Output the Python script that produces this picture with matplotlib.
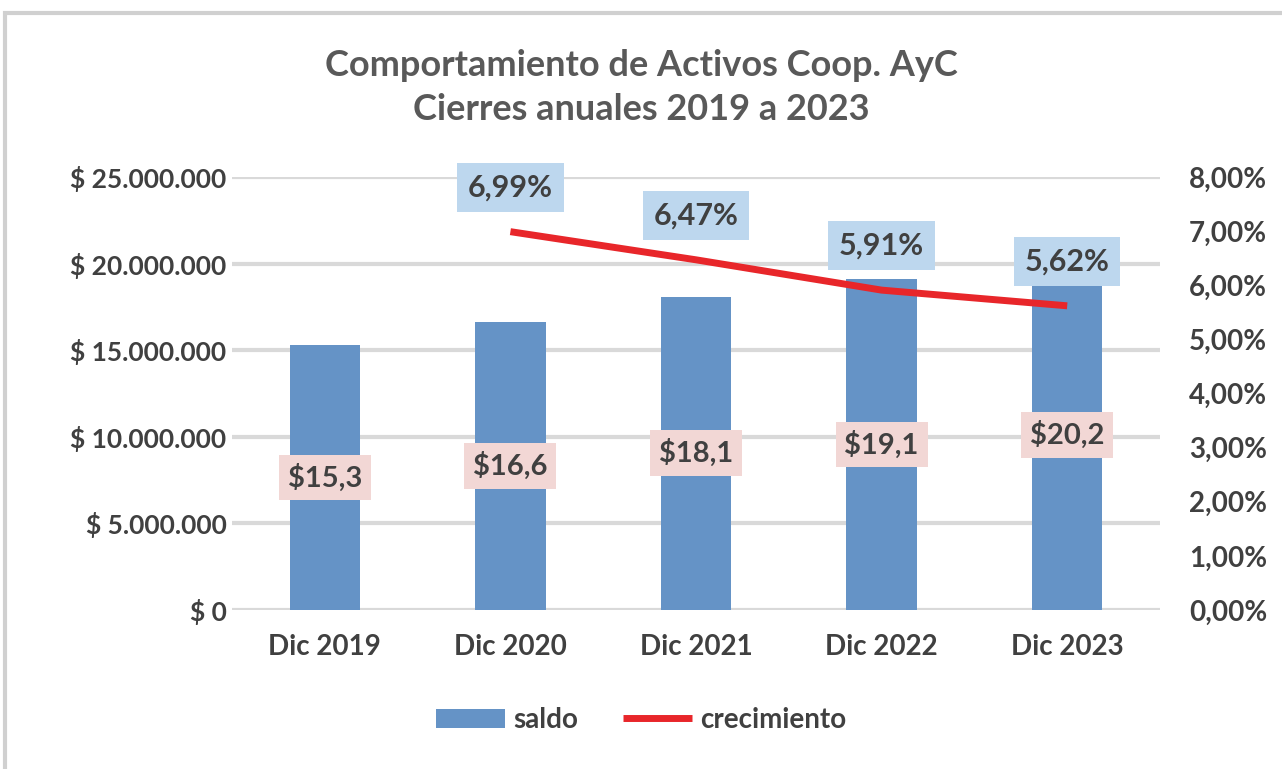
import matplotlib
matplotlib.use("Agg")
import matplotlib.pyplot as plt
from matplotlib.patches import Rectangle
from matplotlib.ticker import FuncFormatter, MultipleLocator
import numpy as np

categories = ["Dic 2019", "Dic 2020", "Dic 2021", "Dic 2022", "Dic 2023"]
saldo = [15.3e6, 16.6e6, 18.1e6, 19.1e6, 20.2e6]
crecimiento = [np.nan, 6.99, 6.47, 5.91, 5.62]
saldo_labels = ["$15,3", "$16,6", "$18,1", "$19,1", "$20,2"]
crec_labels = ["", "6,99%", "6,47%", "5,91%", "5,62%"]

FONT = ["Lato", "DejaVu Sans"]
plt.rcParams['font.family'] = FONT
TXT = "#404040"
BAR = "#6593C6"
RED = "#E8262A"
GRID = "#D9D9D9"

fig = plt.figure(figsize=(12.82, 7.69), dpi=100)
ax = fig.add_axes([232/1282, 1-610/769, (1160-232)/1282, (610-177)/769])
ax2 = ax.twinx()

x = np.arange(len(categories))
ax.bar(x, saldo, width=0.38, color=BAR, zorder=2, label="saldo")
ax.set_xlim(-0.5, 4.5)
ax.set_ylim(0, 25e6)
ax.yaxis.set_major_locator(MultipleLocator(5e6))
ax.yaxis.set_major_formatter(FuncFormatter(lambda v, p: "$ " + f"{int(v):,}".replace(",", ".")))
ax.grid(axis="y", color=GRID, linewidth=3, zorder=0)
ax.set_axisbelow(True)
for s in ax.spines.values():
    s.set_visible(False)
for s in ax2.spines.values():
    s.set_visible(False)
ax.tick_params(axis="y", length=0, colors=TXT, labelsize=19, pad=4)
ax.tick_params(axis="x", length=0, colors=TXT, labelsize=20, pad=17)
ax.set_xticks(x)
ax.set_xticklabels(categories)
for t in ax.get_xticklabels() + ax.get_yticklabels():
    t.set_fontweight("bold")

ax2.plot(x, crecimiento, color=RED, linewidth=5, solid_capstyle="butt", zorder=3, label="crecimiento")
ax2.set_ylim(0, 8)
ax2.yaxis.set_major_locator(MultipleLocator(1))
ax2.yaxis.set_major_formatter(FuncFormatter(lambda v, p: f"{v:.2f}".replace(".", ",") + "%"))
ax2.tick_params(axis="y", length=0, colors=TXT, labelsize=20, pad=21)
for t in ax2.get_yticklabels():
    t.set_fontweight("bold")

for xi, v, lab in zip(x, saldo, saldo_labels):
    ax.annotate(lab, (xi, v / 2), ha="center", va="center", fontsize=21, fontweight="bold",
                color=TXT, zorder=5,
                bbox=dict(boxstyle="square,pad=0.3", fc="#F2D7D5", ec="none"))
for xi, v, lab in zip(x, crecimiento, crec_labels):
    if lab:
        ax2.annotate(lab, (xi, v), xytext=(0, 32), textcoords="offset points", ha="center",
                     va="center", fontsize=22, fontweight="bold", color=TXT, zorder=5,
                     bbox=dict(boxstyle="square,pad=0.35", fc="#BDD7EE", ec="none"))

fig.text(0.5, 1-65/769, "Comportamiento de Activos Coop. AyC", ha="center", va="center",
         fontsize=26, fontweight="bold", color="#595959")
fig.text(0.5, 1-109/769, "Cierres anuales 2019 a 2023", ha="center", va="center",
         fontsize=26, fontweight="bold", color="#595959")

h1, l1 = ax.get_legend_handles_labels()
h2, l2 = ax2.get_legend_handles_labels()
fig.legend(h1 + h2, l1 + l2, loc="center", bbox_to_anchor=(0.5, 1-720/769), ncol=2,
           frameon=False, labelcolor=TXT, handlelength=2.5, columnspacing=1.6,
           handletextpad=0.3, prop={"weight": "bold", "size": 20, "family": FONT})

fig.add_artist(Rectangle((5/1282, -0.02), 1.1, 1-13/769 + 0.02, transform=fig.transFigure,
                         fill=False, ec="#D0D0D0", lw=3, clip_on=False))

fig.savefig("out.png", dpi=100, facecolor="white")
